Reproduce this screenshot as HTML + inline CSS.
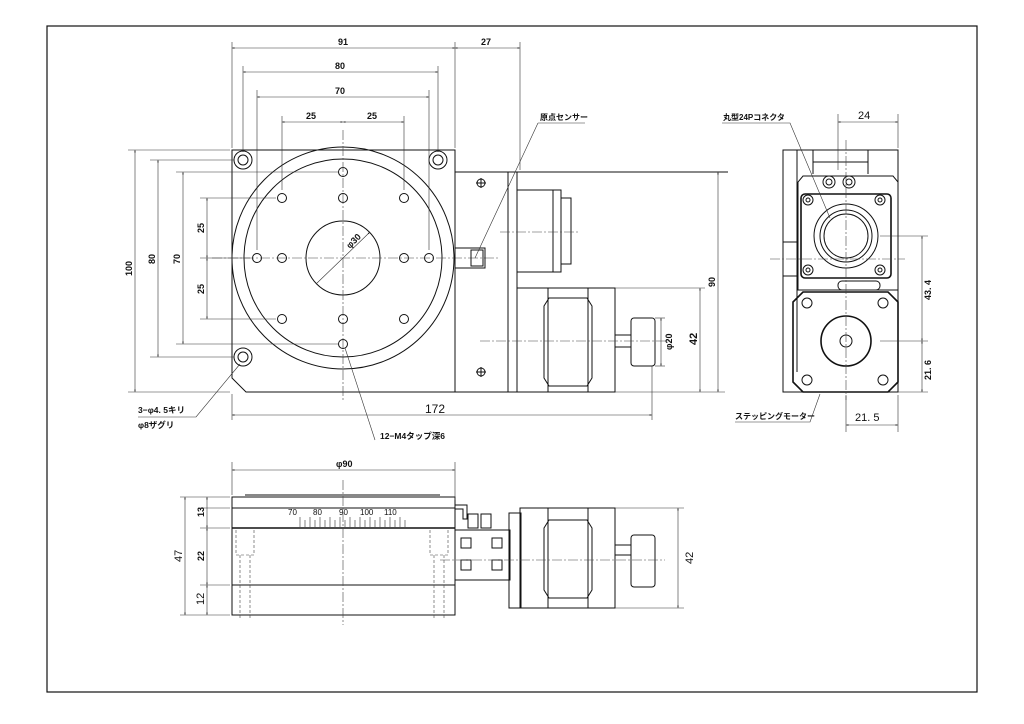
<!DOCTYPE html>
<html><head><meta charset="utf-8"><style>
html,body{margin:0;padding:0;background:#fff}
svg{display:block}
text{font-family:"Liberation Sans","Noto Sans CJK JP",sans-serif;font-size:9px;font-weight:bold;fill:#111}
.l{stroke:#111;stroke-width:1;fill:none}
.t{stroke:#111;stroke-width:1.6;fill:none}
.d{stroke:#333;stroke-width:0.6;fill:none}
.c{stroke:#444;stroke-width:0.6;fill:none;stroke-dasharray:10 2 2 2}
.h{stroke:#444;stroke-width:0.6;fill:none;stroke-dasharray:3 2}
</style></head><body>
<svg width="1024" height="724" viewBox="0 0 1024 724" xmlns="http://www.w3.org/2000/svg">
<defs>
<marker id="a" viewBox="0 0 10 10" refX="10" refY="5" markerWidth="6" markerHeight="4" orient="auto-start-reverse"><path d="M0,2 L10,5 L0,8z" fill="#222"/></marker>
</defs>
<rect x="47" y="26" width="930" height="666" fill="none" stroke="#111" stroke-width="1.2"/>

<!-- TOP VIEW -->
<path class="l" d="M232,150 H455 V392 H246 L232,378 Z"/>
<circle class="l" cx="343" cy="258" r="111"/>
<circle class="l" cx="343" cy="258" r="99"/>
<circle class="l" cx="343" cy="258" r="37"/>
<g class="l">
<circle cx="243" cy="160" r="9"/><circle cx="243" cy="160" r="5"/>
<circle cx="438" cy="160" r="9"/><circle cx="438" cy="160" r="5"/>
<circle cx="243" cy="357" r="9"/><circle cx="243" cy="357" r="5"/>
<circle cx="343" cy="172" r="4.5"/><circle cx="282" cy="198" r="4.5"/><circle cx="343" cy="198" r="4.5"/><circle cx="404" cy="198" r="4.5"/>
<circle cx="257" cy="258" r="4.5"/><circle cx="282" cy="258" r="4.5"/><circle cx="404" cy="258" r="4.5"/><circle cx="429" cy="258" r="4.5"/>
<circle cx="282" cy="319" r="4.5"/><circle cx="343" cy="319" r="4.5"/><circle cx="404" cy="319" r="4.5"/><circle cx="343" cy="344" r="4.5"/>
</g>
<line class="c" x1="343" y1="130" x2="343" y2="400"/>
<line class="c" x1="212" y1="258" x2="500" y2="258"/>
<line class="d" x1="316" y1="284" x2="370" y2="232" marker-end="url(#a)"/>
<text x="347" y="246" transform="rotate(-45 352 244)">φ30</text>
<!-- sensor block -->
<rect class="l" x="455" y="172" width="62" height="220"/>
<line class="l" x1="508" y1="172" x2="508" y2="392"/>
<g class="l"><circle cx="481" cy="183" r="4"/><circle cx="481" cy="372" r="4"/></g>
<path class="l" d="M476,183h10M481,178v10M476,372h10M481,367v10"/>
<rect class="l" x="455" y="248" width="30" height="20"/><rect class="l" x="471" y="250" width="12" height="16"/>
<!-- connector -->
<rect class="l" x="517" y="190" width="44" height="82"/>
<path class="l" d="M553,190v82M561,198h10v66h-10"/>
<line class="c" x1="500" y1="232" x2="580" y2="232"/>
<line class="l" x1="517" y1="172" x2="728" y2="172"/>
<!-- motor -->
<rect class="l" x="517" y="288" width="98" height="104"/>
<path class="l" d="M548,288v104M588,288v104M549,298h38l5,8v72l-5,8h-38l-5,-8v-72z"/>
<rect class="l" x="615" y="335" width="16" height="12"/>
<rect class="l" x="631" y="318" width="24" height="48" rx="3"/>
<line class="c" x1="480" y1="341" x2="670" y2="341"/>
<line class="d" x1="615" y1="288" x2="705" y2="288"/>
<line class="d" x1="615" y1="392" x2="725" y2="392"/>
<line class="d" x1="655" y1="318" x2="665" y2="318"/><line class="d" x1="655" y1="366" x2="665" y2="366"/>

<!-- top view dims -->
<g class="d">
<path d="M232,42V148M455,42V148M520,42V170M243,66V152M438,66V152M257,90V250M429,90V250M282,116V190M404,116V190"/>
<line x1="232" y1="48" x2="455" y2="48" marker-start="url(#a)" marker-end="url(#a)"/>
<line x1="455" y1="48" x2="520" y2="48" marker-start="url(#a)" marker-end="url(#a)"/>
<line x1="243" y1="72" x2="438" y2="72" marker-start="url(#a)" marker-end="url(#a)"/>
<line x1="257" y1="97" x2="429" y2="97" marker-start="url(#a)" marker-end="url(#a)"/>
<line x1="282" y1="122" x2="343" y2="122" marker-start="url(#a)" marker-end="url(#a)"/>
<line x1="343" y1="122" x2="404" y2="122" marker-start="url(#a)" marker-end="url(#a)"/>
<path d="M128,150H230M150,160H234M176,172H338M200,198H276M200,258H250M200,319H276M176,344H338M150,357H234M128,392H230"/>
<line x1="135" y1="150" x2="135" y2="392" marker-start="url(#a)" marker-end="url(#a)"/>
<line x1="158" y1="160" x2="158" y2="357" marker-start="url(#a)" marker-end="url(#a)"/>
<line x1="183" y1="172" x2="183" y2="344" marker-start="url(#a)" marker-end="url(#a)"/>
<line x1="207" y1="198" x2="207" y2="258" marker-start="url(#a)" marker-end="url(#a)"/>
<line x1="207" y1="258" x2="207" y2="319" marker-start="url(#a)" marker-end="url(#a)"/>
<path d="M232,394V420M652,366V420"/>
<line x1="232" y1="415" x2="652" y2="415" marker-start="url(#a)" marker-end="url(#a)"/>
<line x1="718" y1="172" x2="718" y2="392" marker-start="url(#a)" marker-end="url(#a)"/>
<line x1="700" y1="288" x2="700" y2="392" marker-start="url(#a)" marker-end="url(#a)"/>
<line x1="661" y1="318" x2="661" y2="366" marker-start="url(#a)" marker-end="url(#a)"/>
</g>
<text x="338" y="45">91</text><text x="481" y="45">27</text>
<text x="335" y="69">80</text><text x="335" y="94">70</text>
<text x="306" y="119">25</text><text x="367" y="119">25</text>
<text x="425" y="413" style="font-size:12px;font-weight:normal">172</text>
<text transform="translate(132,276) rotate(-90)">100</text>
<text transform="translate(155,264) rotate(-90)">80</text>
<text transform="translate(180,264) rotate(-90)">70</text>
<text transform="translate(204,233) rotate(-90)">25</text>
<text transform="translate(204,294) rotate(-90)">25</text>
<text transform="translate(715,287) rotate(-90)">90</text>
<text transform="translate(697,345) rotate(-90)" style="font-size:11px">42</text>
<text transform="translate(672,350) rotate(-90)">φ20</text>
<!-- labels -->
<text x="540" y="120" style="font-size:8px">原点センサー</text>
<path class="d" d="M538,123H585M538,123L475,258"/>
<text x="138" y="413" style="font-size:8.5px">3−φ4. 5キリ</text>
<text x="138" y="428" style="font-size:8.5px">φ8ザグリ</text>
<path class="d" d="M138,417H196L240,364"/>
<text x="380" y="439" style="font-size:8.5px">12−M4タップ深6</text>
<path class="d" d="M375,440L345,348"/>

<!-- RIGHT VIEW -->
<path class="l" d="M783,150H898V392H783Z"/>
<path class="l" d="M797,150V372M813,150V174M868,150V174M813,162H868"/>
<path class="l" d="M803,176H893L898,182V290H798V182Z"/>
<rect class="t" x="801" y="194" width="90" height="84" rx="4"/>
<circle class="l" cx="846" cy="236" r="32"/><circle class="l" cx="846" cy="236" r="26"/><circle class="l" cx="846" cy="236" r="22"/>
<g class="l"><circle cx="829" cy="182" r="6"/><circle cx="849" cy="182" r="6"/><circle cx="829" cy="182" r="3"/><circle cx="849" cy="182" r="3"/>
<circle cx="808" cy="200" r="5"/><circle cx="880" cy="200" r="5"/><circle cx="808" cy="270" r="5"/><circle cx="880" cy="270" r="5"/>
<circle cx="808" cy="200" r="2"/><circle cx="880" cy="200" r="2"/><circle cx="808" cy="270" r="2"/><circle cx="880" cy="270" r="2"/></g>
<rect class="l" x="783" y="242" width="14" height="34"/>
<rect class="l" x="838" y="281" width="42" height="9" rx="4"/>
<path class="t" d="M803,292H888L898,302V382L888,392H803L793,382V302Z"/>
<circle class="t" cx="846" cy="341" r="25"/><circle class="l" cx="846" cy="341" r="6"/>
<g class="l"><circle cx="807" cy="303" r="5"/><circle cx="883" cy="303" r="5"/><circle cx="807" cy="380" r="5"/><circle cx="883" cy="380" r="5"/></g>
<line class="c" x1="846" y1="140" x2="846" y2="400"/>
<line class="c" x1="770" y1="259" x2="905" y2="259"/>
<g class="d">
<path d="M838,114V170M898,114V148M880,236H928M880,341H928M898,392H928M846,395V432M898,395V432"/>
<line x1="838" y1="122" x2="898" y2="122" marker-start="url(#a)" marker-end="url(#a)"/>
<line x1="922" y1="236" x2="922" y2="341" marker-start="url(#a)" marker-end="url(#a)"/>
<line x1="922" y1="341" x2="922" y2="392" marker-start="url(#a)" marker-end="url(#a)"/>
<line x1="846" y1="425" x2="898" y2="425" marker-start="url(#a)" marker-end="url(#a)"/>
<path d="M722,123H790L830,218M735,422H810L820,394"/>
</g>
<text x="858" y="119" style="font-size:11px;font-weight:normal">24</text>
<text x="855" y="421" style="font-size:11px;font-weight:normal">21. 5</text>
<text transform="translate(931,300) rotate(-90)">43. 4</text>
<text transform="translate(931,380) rotate(-90)">21. 6</text>
<text x="723" y="120" style="font-size:8px">丸型24Pコネクタ</text>
<text x="735" y="419" style="font-size:8px">ステッピングモーター</text>

<!-- SIDE VIEW -->
<rect class="l" x="232" y="497" width="223" height="118"/>
<line class="l" x1="232" y1="508" x2="455" y2="508"/>
<line class="t" x1="232" y1="528" x2="455" y2="528"/>
<line class="l" x1="232" y1="585" x2="455" y2="585"/>
<line class="l" x1="245" y1="495" x2="440" y2="495"/>
<g class="d">
<path d="M300,527V517M305,527V520M310,527V517M315,527V520M320,527V517M325,527V520M330,527V517M335,527V520M340,527V517M345,527V520M350,527V517M355,527V520M360,527V517M365,527V520M370,527V517M375,527V520M380,527V517M385,527V520M390,527V517M395,527V520M400,527V517M405,527V520"/>
</g>
<text x="288" y="515" style="font-size:8px;font-weight:normal">70</text><text x="313" y="515" style="font-size:8px;font-weight:normal">80</text><text x="339" y="515" style="font-size:8px;font-weight:normal">90</text><text x="360" y="515" style="font-size:8px;font-weight:normal">100</text><text x="384" y="515" style="font-size:8px;font-weight:normal">110</text>
<path class="h" d="M236,530V555H254V530M240,555V620M250,555V620M430,530V555H448V530M434,555V620M444,555V620"/>
<line class="c" x1="343" y1="480" x2="343" y2="625"/>
<path class="l" d="M455,505h12v14h-4v-10h-8M468,514h10v14h-10zM481,514h10v14h-10z"/>
<rect class="l" x="455" y="530" width="55" height="50"/>
<g class="l"><rect x="461" y="538" width="10" height="10"/><rect x="461" y="560" width="10" height="10"/><rect x="492" y="538" width="10" height="10"/><rect x="492" y="560" width="10" height="10"/></g>
<rect class="l" x="509" y="513" width="12" height="95"/>
<rect class="l" x="520" y="508" width="95" height="100"/>
<path class="l" d="M548,508v100M588,508v100M549,520h38l5,8v62l-5,8h-38l-5,-8v-62z"/>
<rect class="l" x="615" y="545" width="16" height="10"/>
<rect class="l" x="631" y="535" width="24" height="52" rx="3"/>
<line class="c" x1="440" y1="560" x2="665" y2="560"/>
<g class="d">
<path d="M180,497H230M200,508H230M200,528H230M200,585H230M180,615H230M615,508H684M615,608H684M232,462V495M455,462V500"/>
<line x1="185" y1="497" x2="185" y2="615" marker-start="url(#a)" marker-end="url(#a)"/>
<line x1="207" y1="497" x2="207" y2="528" marker-start="url(#a)" marker-end="url(#a)"/>
<line x1="207" y1="528" x2="207" y2="585" marker-start="url(#a)" marker-end="url(#a)"/>
<line x1="207" y1="585" x2="207" y2="615" marker-start="url(#a)" marker-end="url(#a)"/>
<line x1="678" y1="508" x2="678" y2="608" marker-start="url(#a)" marker-end="url(#a)"/>
<line x1="232" y1="470" x2="455" y2="470" marker-start="url(#a)" marker-end="url(#a)"/>
</g>
<text x="336" y="467">φ90</text>
<text transform="translate(182,562) rotate(-90)" style="font-size:11px;font-weight:normal">47</text>
<text transform="translate(204,517) rotate(-90)">13</text>
<text transform="translate(204,561) rotate(-90)">22</text>
<text transform="translate(204,605) rotate(-90)" style="font-size:11px;font-weight:normal">12</text>
<text transform="translate(693,564) rotate(-90)" style="font-size:11px;font-weight:normal">42</text>
</svg>
</body></html>
